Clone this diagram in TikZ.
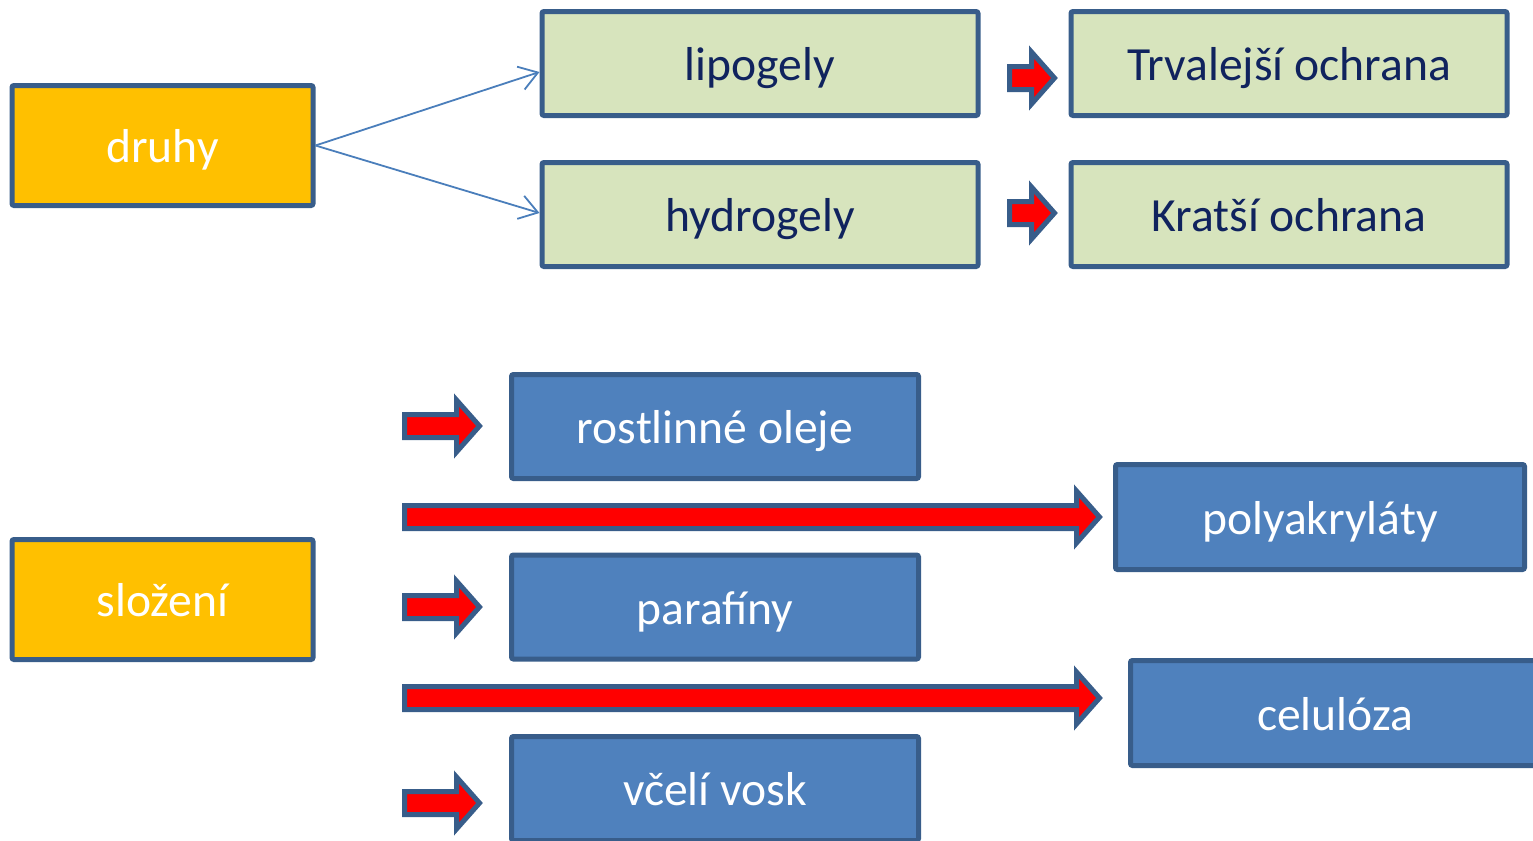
\documentclass[tikz,border=0pt]{standalone}
\usepackage{fontspec}
\setmainfont{Carlito}
\usetikzlibrary{calc,arrows.meta}

\definecolor{edgeblue}{RGB}{56,93,138}
\definecolor{fillblue}{RGB}{79,129,189}
\definecolor{fillgreen}{RGB}{215,228,189}
\definecolor{fillorange}{RGB}{255,192,0}
\definecolor{navytext}{RGB}{16,35,94}
\definecolor{linkblue}{RGB}{74,126,187}

\tikzset{
  box/.style={draw=edgeblue, line width=2.5pt, rounded corners=1pt, inner sep=0pt,
    font=\fontsize{23.8}{28}\selectfont, text height=18pt, text depth=1pt},
  sortbox/.style={box, fill=fillorange, text=white, minimum width=150.5pt, minimum height=60pt},
  gelbox/.style={box, fill=fillgreen, text=navytext, minimum width=218pt, minimum height=52pt},
  partbox/.style={box, fill=fillblue, text=white, minimum width=203.5pt, minimum height=52pt},
  redarr/.style={draw=edgeblue, fill=red, line width=2.5pt},
  thinarr/.style={draw=linkblue, line width=0.9pt, -{Straight Barb[length=9pt,width=12pt]}},
}

% block arrow: #1 start, #2 tip
\newcommand{\blockarrow}[2]{%
  \draw[redarr] let \p1=(#1), \p2=(#2) in
    (\x1,\y1+5.75pt) -- (\x2-11.5pt,\y1+5.75pt) -- (\x2-11.5pt,\y1+13pt) -- (\x2,\y1)
    -- (\x2-11.5pt,\y1-13pt) -- (\x2-11.5pt,\y1-5.75pt) -- (\x1,\y1-5.75pt) -- cycle;}

\begin{document}
\begin{tikzpicture}[x=0.5pt,y=0.5pt,yscale=-1,xscale=1]
\useasboundingbox (0,0) rectangle (1533,841);
\clip (0,0) rectangle (1533,841);

% upper part
\node[sortbox] (druhy) at (162.5,145.5) {druhy};
\node[gelbox] (lipo) at (760,63.5) {lipogely};
\node[gelbox] (hydro) at (760,214.5) {hydrogely};
\node[gelbox] (trval) at (1289,63.5) {Trvalejší ochrana};
\node[gelbox] (krat) at (1289,214.5) {Kratší ochrana};

\draw[thinarr] (druhy.east) -- ([yshift=4.25pt]lipo.west);
\draw[thinarr] (druhy.east) -- ([yshift=-0.75pt]hydro.west);

\coordinate (u1s) at (1009.5,78);
\coordinate (u1t) at (1054.5,78);
\coordinate (u2s) at (1009.5,213);
\coordinate (u2t) at (1054.5,213);
\blockarrow{u1s}{u1t}
\blockarrow{u2s}{u2t}

% lower part
\node[sortbox] (slozeni) at (162.5,599.5) {složení};
\node[partbox] (oleje) at (715,426.5) {rostlinné oleje};
\node[partbox, minimum width=204.5pt, minimum height=52.5pt] (poly) at (1320,517) {polyakryláty};
\node[partbox] (parafin) at (715,607) {parafíny};
\node[partbox, minimum width=204.5pt, minimum height=52.5pt] (celul) at (1335,713) {celulóza};
\node[partbox] (vosk) at (715,788.5) {včelí vosk};

\coordinate (l1s) at (404.5,426);
\coordinate (l1t) at (479.5,426);
\coordinate (l2s) at (404.5,517);
\coordinate (l2t) at (1099.5,517);
\coordinate (l3s) at (404.5,607);
\coordinate (l3t) at (479.5,607);
\coordinate (l4s) at (404.5,698);
\coordinate (l4t) at (1099.5,698);
\coordinate (l5s) at (404.5,803);
\coordinate (l5t) at (479.5,803);
\blockarrow{l1s}{l1t}
\blockarrow{l2s}{l2t}
\blockarrow{l3s}{l3t}
\blockarrow{l4s}{l4t}
\blockarrow{l5s}{l5t}
\end{tikzpicture}
\end{document}
